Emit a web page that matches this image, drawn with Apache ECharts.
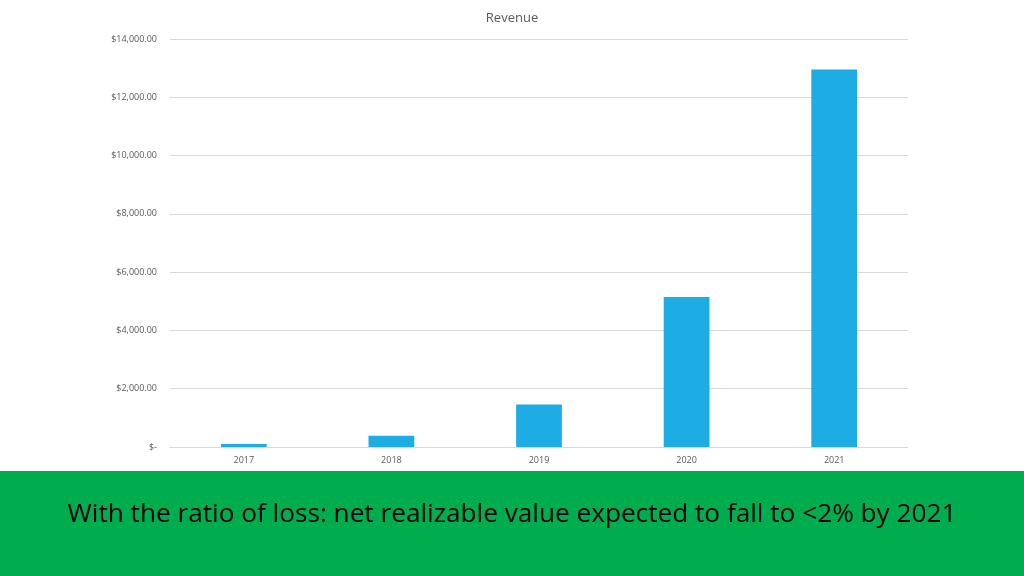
<!DOCTYPE html>
<html><head><meta charset="utf-8">
<script src="https://cdn.jsdelivr.net/npm/echarts@6/dist/echarts.min.js"></script>
<style>html,body{margin:0;padding:0;background:#fff}#c{width:1024px;height:576px}</style>
</head><body><div id="c"></div>
<script>
var categories = ['2017','2018','2019','2020','2021'];
var revenue = [100, 390, 1460, 5150, 12950];
var chartTitle = 'Revenue';
var bannerText = 'With the ratio of loss: net realizable value expected to fall to <2% by 2021';

var chart = echarts.init(document.getElementById('c'), null, {renderer:'canvas'});
function fmt(v){
  if (v === 0) return '$-';
  return '$' + v.toLocaleString('en-US',{minimumFractionDigits:2, maximumFractionDigits:2});
}
chart.setOption({
  animation:false,
  title:{text:chartTitle, left:'center', top:7, textStyle:{fontFamily:'Open Sans', fontSize:13, fontWeight:'normal', color:'#595959'}},
  grid:{left:170, right:116, top:39, bottom:129},
  xAxis:{type:'category', data:categories,
    axisLine:{lineStyle:{color:'#d9d9d9'}}, axisTick:{show:false},
    axisLabel:{color:'#595959', fontFamily:'Open Sans', fontSize:9, margin:9}},
  yAxis:{type:'value', min:0, max:14000, interval:2000,
    axisLine:{show:false}, axisTick:{show:false},
    splitLine:{lineStyle:{color:'#d9d9d9'}},
    axisLabel:{color:'#595959', fontFamily:'Open Sans', fontSize:9, margin:13, formatter:fmt}},
  series:[{type:'bar', data:revenue, barWidth:'31%', itemStyle:{color:'#1DACE3'}}],
  graphic:[
    {type:'rect', left:0, top:471, shape:{width:1024, height:105}, style:{fill:'#00AD4E'}, z:10},
    {type:'text', left:'center', top:502, style:{text:bannerText, fill:'#000', font:'26.2px "Open Sans"'}, z:11}
  ]
});
</script></body></html>
